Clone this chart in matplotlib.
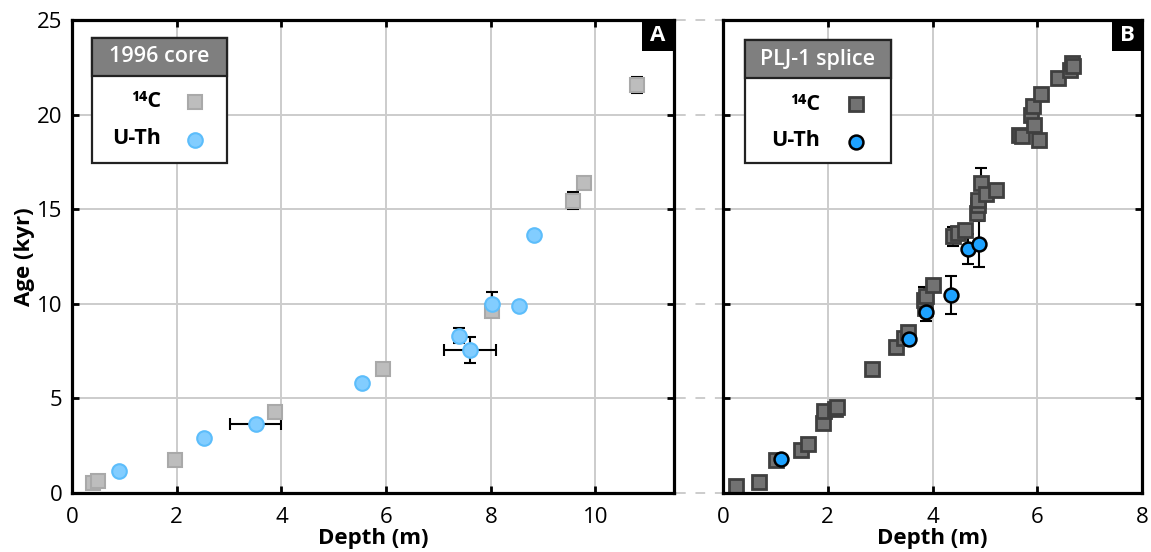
import numpy as np
import matplotlib
matplotlib.use("Agg")
import matplotlib.pyplot as plt
from matplotlib.patches import Rectangle
from matplotlib.lines import Line2D
import matplotlib.transforms as mtransforms

plt.rcParams['font.family'] = ['Open Sans', 'DejaVu Sans']

# panel A: 1996 core
a_c14_depth = [0.40, 0.50, 1.96, 3.88, 5.95, 8.02, 9.58, 9.79, 10.80]
a_c14_age = [0.53, 0.63, 1.75, 4.30, 6.55, 9.60, 15.45, 16.36, 21.55]
a_c14_yerr = [0, 0, 0, 0, 0, 0, 0.45, 0, 0.43]

a_uth_depth = [0.90, 2.53, 3.51, 5.54, 7.39, 7.60, 8.02, 8.53, 8.82]
a_uth_age = [1.16, 2.89, 3.65, 5.80, 8.32, 7.57, 10.00, 9.89, 13.61]
a_uth_xerr = [0, 0, 0.49, 0, 0, 0.50, 0, 0, 0]
a_uth_yerr = [0, 0, 0, 0, 0.38, 0.70, 0.60, 0, 0]

# panel B: PLJ-1 splice
b_c14_depth = [0.25, 0.68, 1.01, 1.49, 1.63, 1.90, 1.93, 2.14, 2.17, 2.85,
               3.31, 3.45, 3.53, 3.86, 3.84, 3.87, 4.00, 4.39, 4.49, 4.63,
               4.85, 4.87, 4.87, 4.93, 5.02, 5.22, 5.66, 5.70, 6.04, 5.89,
               5.92, 5.93, 6.08, 6.40, 6.62, 6.66, 6.68]
b_c14_age = [0.37, 0.60, 1.75, 2.27, 2.59, 3.69, 4.34, 4.43, 4.57, 6.54,
             7.74, 8.18, 8.50, 9.77, 10.20, 10.39, 10.97, 13.56, 13.74, 13.92,
             14.80, 15.20, 15.50, 16.39, 15.82, 15.99, 18.94, 18.85, 18.68, 20.00,
             20.44, 19.47, 21.10, 21.94, 22.38, 22.73, 22.55]
b_c14_yerr = [0, 0, 0, 0, 0, 0, 0, 0, 0, 0,
              0, 0, 0, 0, 0.7, 0, 0, 0.5, 0, 0,
              0, 0, 0, 0.8, 0, 0, 0, 0, 0, 0,
              0, 0, 0, 0, 0, 0, 0]

b_uth_depth = [1.10, 3.55, 3.87, 4.35, 4.67, 4.89]
b_uth_age = [1.80, 8.15, 9.56, 10.48, 12.90, 13.16]
b_uth_yerr = [0, 0, 0.46, 1.0, 0.8, 1.2]

W, H = 1151, 552


def fx(p):
    return p / W


def fy(p):
    return 1 - p / H


def draw_errors(ax, x, y, xerr=None, yerr=None):
    x = np.asarray(x)
    y = np.asarray(y)
    kw = dict(fmt='none', ecolor='black', elinewidth=1.5, capsize=4,
              capthick=1.5, zorder=2)
    if yerr is not None:
        yerr = np.asarray(yerr)
        m = yerr > 0
        ax.errorbar(x[m], y[m], yerr=yerr[m], **kw)
    if xerr is not None:
        xerr = np.asarray(xerr)
        m = xerr > 0
        ax.errorbar(x[m], y[m], xerr=xerr[m], **kw)


def style_axes(ax, xmax, xticks):
    ax.set_xlim(0, xmax)
    ax.set_ylim(0, 25)
    ax.set_xticks(xticks)
    ax.set_yticks([0, 5, 10, 15, 20, 25])
    ax.grid(True, color='#cccccc', lw=1.4, zorder=0)
    ax.set_axisbelow(True)
    for s in ax.spines.values():
        s.set_linewidth(2.3)
        s.set_zorder(6)
    ax.tick_params(direction='in', length=5, width=2, top=True, right=True,
                   labelsize=16, pad=7)
    ax.tick_params(axis='x', pad=10)
    ax.set_xlabel('Depth (m)', fontsize=16, fontweight='bold', labelpad=0)


def draw_key(fig, x0, y0, x1, y1, title, sq, ci, lx):
    fig.add_artist(Rectangle((fx(x0), fy(y1)), fx(x1) - fx(x0), fy(y0) - fy(y1),
                             transform=fig.transFigure, facecolor='white',
                             edgecolor='#222222', lw=1.6, zorder=7))
    fig.add_artist(Rectangle((fx(x0), fy(y0 + 38)), fx(x1) - fx(x0), fy(y0) - fy(y0 + 38),
                             transform=fig.transFigure, facecolor='#7f7f7f',
                             edgecolor='#222222', lw=1.6, zorder=7))
    fig.text(fx((x0 + x1) / 2), fy(y0 + 19), title, color='white', fontsize=15.5,
             fontweight='semibold', ha='center', va='center', zorder=8)
    mx = x0 + (x1 - x0) * 0.76
    fig.text(fx(lx), fy(y0 + 64), '\u00b9\u2074C', fontsize=15.5, fontweight='bold',
             ha='right', va='center', zorder=8)
    fig.text(fx(lx), fy(y0 + 100), 'U-Th', fontsize=15.5, fontweight='bold',
             ha='right', va='center', zorder=8)
    fig.add_artist(Line2D([fx(mx)], [fy(y0 + 64)], transform=fig.transFigure,
                          ls='none', zorder=8, **sq))
    fig.add_artist(Line2D([fx(mx)], [fy(y0 + 102)], transform=fig.transFigure,
                          ls='none', zorder=8, **ci))


def panel_tag(fig, x0, x1, y0, y1, s):
    fig.add_artist(Rectangle((fx(x0), fy(y1)), fx(x1) - fx(x0), fy(y0) - fy(y1),
                             transform=fig.transFigure, facecolor='black',
                             edgecolor='none', zorder=8))
    fig.text(fx((x0 + x1) / 2), fy((y0 + y1) / 2), s, color='white', fontsize=16,
             fontweight='bold', ha='center', va='center', zorder=9)


a_sq = dict(marker='s', markersize=10, markerfacecolor='#bdbdbd',
            markeredgecolor='#a9a9a9', markeredgewidth=1.5)
a_ci = dict(marker='o', markersize=10.5, markerfacecolor='#82cdff',
            markeredgecolor='#5cbdfb', markeredgewidth=1.5)
b_sq = dict(marker='s', markersize=9.5, markerfacecolor='#727272',
            markeredgecolor='#3f3f3f', markeredgewidth=2)
b_ci = dict(marker='o', markersize=10, markerfacecolor='#1ea2ff',
            markeredgecolor='black', markeredgewidth=1.8)

fig = plt.figure(figsize=(11.51, 5.52), dpi=100)
axA = fig.add_axes([fx(72), fy(493), fx(674) - fx(72), fy(20) - fy(493)])
axB = fig.add_axes([fx(723), fy(493), fx(1142) - fx(723), fy(20) - fy(493)])

# panel A
draw_errors(axA, a_c14_depth, a_c14_age, yerr=a_c14_yerr)
draw_errors(axA, a_uth_depth, a_uth_age, xerr=a_uth_xerr, yerr=a_uth_yerr)
axA.plot(a_c14_depth, a_c14_age, ls='none', zorder=3, **a_sq)
axA.plot(a_uth_depth, a_uth_age, ls='none', zorder=4, **a_ci)
style_axes(axA, 11.5, [0, 2, 4, 6, 8, 10])
axA.set_ylabel('Age (kyr)', fontsize=16, fontweight='bold', labelpad=1)

# panel B
draw_errors(axB, b_c14_depth, b_c14_age, yerr=b_c14_yerr)
draw_errors(axB, b_uth_depth, b_uth_age, yerr=b_uth_yerr)
axB.plot(b_c14_depth, b_c14_age, ls='none', zorder=3, **b_sq)
axB.plot(b_uth_depth, b_uth_age, ls='none', zorder=4, **b_ci)
style_axes(axB, 8, [0, 2, 4, 6, 8])
axB.tick_params(labelleft=False)

# dashed connectors between panels
blend = mtransforms.blended_transform_factory(axA.transAxes, axA.transData)
for yv in [0, 5, 10, 15, 20, 25]:
    axA.plot([1.003, 1.0 + 49 / 602], [yv, yv], transform=blend, clip_on=False,
             color='#cccccc', lw=1.4, ls=(0, (5, 5)), zorder=1)

draw_key(fig, 92, 38, 227, 163, '1996 core', a_sq, a_ci, 161)
draw_key(fig, 745, 40, 891, 163, 'PLJ-1 splice', b_sq, b_ci, 820)
panel_tag(fig, 642, 674, 20, 51, 'A')
panel_tag(fig, 1112, 1142, 20, 51, 'B')

fig.savefig('out.png', dpi=100)
